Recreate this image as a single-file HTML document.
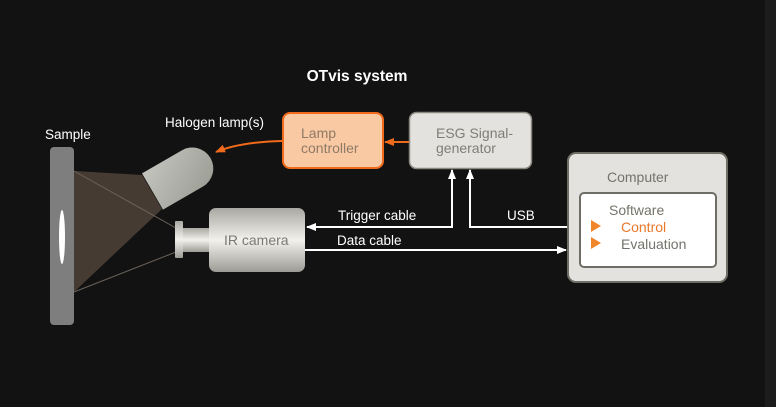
<!DOCTYPE html>
<html><head><meta charset="utf-8"><style>
body{margin:0;background:#121212;}
svg{display:block;font-family:"Liberation Sans",sans-serif;}
</style></head><body>
<svg width="776" height="407" viewBox="0 0 776 407">
<defs>
<linearGradient id="lamp" x1="0" y1="0" x2="1" y2="1"><stop offset="0" stop-color="#c3c4bd"/><stop offset="1" stop-color="#9a9b93"/></linearGradient>
<linearGradient id="cam" x1="0" y1="0" x2="0" y2="1"><stop offset="0" stop-color="#a9a8a1"/><stop offset="0.5" stop-color="#f2f1ec"/><stop offset="1" stop-color="#9c9b94"/></linearGradient>
<marker id="aw" markerWidth="10" markerHeight="8" refX="9" refY="4" orient="auto" markerUnits="userSpaceOnUse"><path d="M0,0 L10,4 L0,8 Z" fill="#fff"/></marker>
<marker id="ao" markerWidth="10" markerHeight="8" refX="9" refY="4" orient="auto" markerUnits="userSpaceOnUse"><path d="M0,0 L10,4 L0,8 Z" fill="#f06a1c"/></marker>
</defs>
<rect x="0" y="0" width="776" height="407" fill="#121212"/>
<rect x="765" y="0" width="11" height="407" fill="#1c1c1c"/>
<text x="357" y="81" fill="#fff" font-size="15.5" font-weight="bold" text-anchor="middle">OTvis system</text>
<text x="45" y="139" fill="#fff" font-size="13.5">Sample</text>
<text x="165" y="127" fill="#fff" font-size="13.5">Halogen lamp(s)</text>
<!-- light cone -->
<polygon points="74,171 142,175 162,209 74,292" fill="#463b33"/>
<line x1="74" y1="171" x2="176" y2="228" stroke="#6a625b" stroke-width="1"/>
<line x1="74" y1="292" x2="176" y2="252" stroke="#6a625b" stroke-width="1"/>
<!-- sample -->
<rect x="50" y="147" width="24" height="178" rx="4" fill="#7e7e7e"/>
<ellipse cx="62" cy="237" rx="3" ry="27" fill="#fff"/>
<!-- lamp -->
<g transform="translate(152.5,191.5) rotate(-30)">
<path d="M0,-21 L46,-21 A21,21 0 0 1 46,21 L0,21 Z" fill="url(#lamp)"/>
</g>
<!-- camera -->
<rect x="175" y="221" width="8" height="37" rx="1" fill="url(#cam)"/>
<rect x="183" y="228" width="28" height="24" fill="url(#cam)"/>
<rect x="209" y="208" width="96" height="64" rx="7" fill="url(#cam)"/>
<text x="224" y="245" fill="#7a7972" font-size="14">IR camera</text>
<!-- lamp controller -->
<rect x="283" y="113" width="100" height="55" rx="7" fill="#f9c9a4" stroke="#f06a1c" stroke-width="2"/>
<text x="301" y="138" fill="#8f7a66" font-size="14">Lamp</text>
<text x="301" y="153" fill="#8f7a66" font-size="14">controller</text>
<!-- ESG -->
<rect x="409.5" y="112.5" width="122" height="56" rx="7" fill="#e4e2de" stroke="#8a8880" stroke-width="1.5"/>
<text x="436" y="138" fill="#7f7d76" font-size="14">ESG Signal-</text>
<text x="436" y="153" fill="#7f7d76" font-size="14">generator</text>
<!-- computer -->
<rect x="568" y="153" width="159" height="129" rx="8" fill="#e4e2de" stroke="#6f6e66" stroke-width="2"/>
<text x="607" y="182" fill="#74736c" font-size="14">Computer</text>
<rect x="580" y="193" width="136" height="74" rx="4" fill="#fff" stroke="#6f6e66" stroke-width="2"/>
<text x="609" y="215" fill="#74736c" font-size="14">Software</text>
<polygon points="591,220 601,226 591,232" fill="#f0852a"/>
<text x="621" y="232" fill="#e8782a" font-size="14">Control</text>
<polygon points="591,237 601,243 591,249" fill="#f0852a"/>
<text x="621" y="249" fill="#74736c" font-size="14">Evaluation</text>
<!-- connectors -->
<line x1="409" y1="142" x2="385" y2="142" stroke="#f06a1c" stroke-width="2" marker-end="url(#ao)"/>
<path d="M282,141 Q240,142 216,152" fill="none" stroke="#f06a1c" stroke-width="2" marker-end="url(#ao)"/>
<polyline points="452,172 452,227 307,227" fill="none" stroke="#fff" stroke-width="2" marker-end="url(#aw)"/>
<line x1="452" y1="227" x2="452" y2="170" stroke="#fff" stroke-width="2" marker-end="url(#aw)"/>
<polyline points="567,227 470,227 470,170" fill="none" stroke="#fff" stroke-width="2" marker-end="url(#aw)"/>
<line x1="305" y1="250" x2="566" y2="250" stroke="#fff" stroke-width="2" marker-end="url(#aw)"/>
<text x="338" y="220" fill="#fff" font-size="13.5">Trigger cable</text>
<text x="337" y="245" fill="#fff" font-size="13.5">Data cable</text>
<text x="507" y="220" fill="#fff" font-size="13.5">USB</text>
</svg>
</body></html>
